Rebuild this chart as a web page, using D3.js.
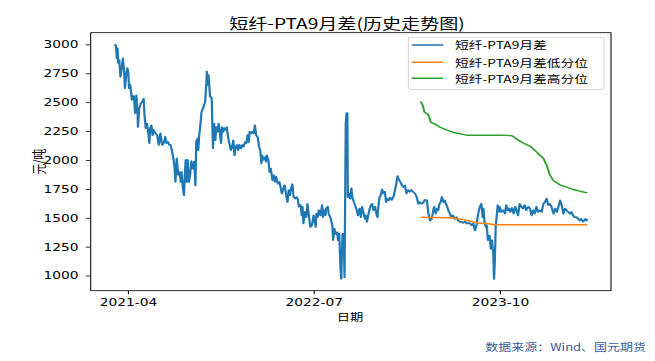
<!DOCTYPE html>
<html><head><meta charset="utf-8">
<script src="https://cdn.jsdelivr.net/npm/d3@7"></script>
<style>html,body{margin:0;padding:0;background:#fff;}svg{display:block;}</style>
</head><body><div id="chart"></div>
<script>
const titleText = "短纤-PTA9月差(历史走势图)";
const yLabel = "元/吨";
const xLabel = "日期";
const sourceText = "数据来源：Wind、国元期货";
const seriesNames = ["短纤-PTA9月差", "短纤-PTA9月差低分位", "短纤-PTA9月差高分位"];
const seriesColors = ["#1f77b4", "#ff7f0e", "#2ca02c"];
const yTicks = [1000, 1250, 1500, 1750, 2000, 2250, 2500, 2750, 3000];
const xTickLabels = ["2021-04", "2022-07", "2023-10"];

const spread = [
["2021-02-27",3000],["2021-03-03",2990],["2021-03-05",2880],["2021-03-07",2965],["2021-03-08",2840],["2021-03-11",2865],["2021-03-14",2720],["2021-03-17",2795],["2021-03-20",2880],["2021-03-23",2765],["2021-03-25",2620],["2021-03-28",2735],["2021-03-31",2795],
["2021-04-02",2765],["2021-04-04",2620],["2021-04-07",2650],["2021-04-11",2520],["2021-04-12",2560],["2021-04-16",2550],["2021-04-19",2405],["2021-04-22",2560],["2021-04-25",2390],["2021-04-26",2285],["2021-04-29",2445],
["2021-05-03",2490],["2021-05-07",2505],["2021-05-10",2530],["2021-05-12",2390],["2021-05-15",2275],["2021-05-18",2315],["2021-05-21",2245],["2021-05-24",2145],["2021-05-26",2275],["2021-05-29",2300],
["2021-06-01",2215],["2021-06-03",2260],["2021-06-08",2230],["2021-06-12",2215],["2021-06-16",2130],["2021-06-20",2230],["2021-06-24",2130],["2021-06-28",2145],
["2021-07-02",2200],["2021-07-05",2145],["2021-07-09",2155],["2021-07-12",2130],["2021-07-15",2130],["2021-07-19",2070],["2021-07-23",1985],["2021-07-25",1925],["2021-07-27",1810],["2021-07-30",2015],
["2021-08-03",1870],["2021-08-06",1895],["2021-08-09",1810],["2021-08-11",1895],["2021-08-14",1765],["2021-08-17",1695],["2021-08-19",1870],["2021-08-21",2000],["2021-08-24",1810],["2021-08-26",2000],["2021-08-29",1810],
["2021-09-01",1870],["2021-09-04",1990],["2021-09-07",1925],["2021-09-11",1985],["2021-09-14",1780],["2021-09-16",2155],["2021-09-19",2185],["2021-09-21",2085],["2021-09-23",2200],["2021-09-26",2300],["2021-09-29",2415],
["2021-10-04",2460],["2021-10-08",2505],["2021-10-11",2680],["2021-10-12",2765],["2021-10-15",2650],["2021-10-16",2735],["2021-10-20",2550],["2021-10-24",2535],["2021-10-27",2100],["2021-10-30",2315],
["2021-11-02",2170],["2021-11-04",2285],["2021-11-07",2245],["2021-11-10",2315],["2021-11-12",2260],["2021-11-16",2145],["2021-11-18",2285],["2021-11-21",2245],["2021-11-24",2275],["2021-11-27",2260],["2021-11-30",2285],
["2021-12-03",2200],["2021-12-06",2145],["2021-12-10",2085],["2021-12-13",2115],["2021-12-16",2170],["2021-12-19",2040],["2021-12-21",2100],["2021-12-25",2130],["2021-12-28",2085],["2021-12-31",2130],
["2022-01-04",2100],["2022-01-07",2130],["2022-01-10",2115],["2022-01-14",2155],["2022-01-17",2145],["2022-01-20",2215],["2022-01-23",2155],["2022-01-25",2245],["2022-01-29",2230],
["2022-02-01",2245],["2022-02-04",2230],["2022-02-07",2300],["2022-02-10",2215],["2022-02-14",2195],["2022-02-17",2115],["2022-02-20",2085],["2022-02-23",1970],["2022-02-25",2040],["2022-02-28",2000],
["2022-03-04",2025],["2022-03-06",1985],["2022-03-08",2040],["2022-03-12",2000],["2022-03-15",1895],["2022-03-18",1925],["2022-03-22",1825],["2022-03-25",1870],["2022-03-28",1810],["2022-03-31",1855],
["2022-04-04",1795],["2022-04-08",1810],["2022-04-11",1765],["2022-04-14",1710],["2022-04-18",1755],["2022-04-21",1780],["2022-04-24",1710],["2022-04-28",1635],
["2022-05-01",1740],["2022-05-04",1695],["2022-05-07",1755],["2022-05-10",1790],["2022-05-13",1680],["2022-05-17",1665],["2022-05-20",1680],["2022-05-23",1665],["2022-05-26",1595],["2022-05-30",1610],
["2022-06-02",1520],["2022-06-04",1595],["2022-06-06",1450],["2022-06-10",1550],["2022-06-13",1505],["2022-06-16",1620],["2022-06-20",1505],["2022-06-23",1420],["2022-06-27",1435],
["2022-07-01",1520],["2022-07-06",1420],["2022-07-08",1535],["2022-07-11",1505],["2022-07-14",1565],["2022-07-18",1520],["2022-07-22",1610],["2022-07-24",1505],["2022-07-28",1565],["2022-07-30",1520],
["2022-08-01",1580],["2022-08-05",1595],["2022-08-07",1535],["2022-08-11",1505],["2022-08-16",1435],["2022-08-18",1305],["2022-08-21",1405],["2022-08-24",1360],["2022-08-28",1375],["2022-08-30",1305],
["2022-09-02",1360],["2022-09-05",1070],["2022-09-07",970],["2022-09-10",1360],["2022-09-13",1360],["2022-09-15",985],["2022-09-18",2315],["2022-09-20",2405],["2022-09-22",2405],["2022-09-23",1680],["2022-09-26",1710],["2022-09-29",1665],
["2022-10-02",1755],["2022-10-04",1680],["2022-10-08",1635],["2022-10-12",1595],["2022-10-15",1565],["2022-10-18",1520],["2022-10-22",1580],["2022-10-25",1505],["2022-10-28",1595],
["2022-11-01",1535],["2022-11-04",1490],["2022-11-06",1520],["2022-11-09",1465],["2022-11-12",1520],["2022-11-16",1580],["2022-11-19",1610],["2022-11-22",1620],["2022-11-25",1565],["2022-11-29",1595],
["2022-12-02",1535],["2022-12-05",1505],["2022-12-07",1595],["2022-12-10",1680],["2022-12-13",1695],["2022-12-16",1745],["2022-12-20",1710],["2022-12-23",1725],["2022-12-26",1635],["2022-12-29",1665],
["2023-01-02",1650],["2023-01-05",1675],["2023-01-09",1655],["2023-01-13",1680],["2023-01-17",1740],["2023-01-20",1795],["2023-01-23",1860],["2023-01-27",1825],["2023-01-30",1810],
["2023-02-03",1780],["2023-02-06",1765],["2023-02-10",1780],["2023-02-14",1710],["2023-02-18",1740],["2023-02-22",1725],["2023-02-26",1740],
["2023-03-02",1725],["2023-03-07",1710],["2023-03-11",1680],["2023-03-15",1620],["2023-03-19",1635],["2023-03-23",1620],["2023-03-27",1630],["2023-03-31",1655],
["2023-04-05",1650],["2023-04-09",1535],["2023-04-13",1475],["2023-04-17",1490],["2023-04-21",1565],["2023-04-23",1595],["2023-04-27",1535],["2023-04-30",1580],
["2023-05-03",1565],["2023-05-06",1620],["2023-05-09",1635],["2023-05-12",1680],["2023-05-16",1635],["2023-05-19",1650],["2023-05-22",1620],["2023-05-25",1595],["2023-05-29",1550],
["2023-06-01",1535],["2023-06-04",1505],["2023-06-08",1520],["2023-06-13",1490],["2023-06-17",1505],["2023-06-21",1475],["2023-06-25",1465],["2023-06-29",1465],
["2023-07-03",1455],["2023-07-08",1465],["2023-07-12",1450],["2023-07-16",1455],["2023-07-20",1450],["2023-07-24",1435],["2023-07-28",1450],
["2023-08-01",1390],["2023-08-05",1435],["2023-08-09",1535],["2023-08-13",1595],["2023-08-17",1620],["2023-08-20",1505],["2023-08-22",1580],["2023-08-25",1450],["2023-08-28",1420],["2023-08-30",1435],
["2023-09-02",1305],["2023-09-06",1345],["2023-09-09",1230],["2023-09-12",1305],["2023-09-15",1190],["2023-09-17",970],["2023-09-19",1130],["2023-09-21",1420],["2023-09-24",1535],["2023-09-26",1610],["2023-09-29",1550],
["2023-10-01",1595],["2023-10-05",1550],["2023-10-10",1565],["2023-10-14",1535],["2023-10-17",1610],["2023-10-21",1565],["2023-10-24",1580],["2023-10-27",1550],["2023-10-31",1585],
["2023-11-04",1535],["2023-11-08",1595],["2023-11-11",1565],["2023-11-15",1520],["2023-11-19",1620],["2023-11-23",1595],["2023-11-27",1580],
["2023-12-01",1610],["2023-12-05",1565],["2023-12-10",1595],["2023-12-14",1580],["2023-12-18",1520],["2023-12-22",1565],["2023-12-26",1535],["2023-12-30",1595],
["2024-01-03",1550],["2024-01-07",1565],["2024-01-12",1550],["2024-01-16",1620],["2024-01-20",1635],["2024-01-24",1665],["2024-01-28",1610],
["2024-02-01",1620],["2024-02-05",1595],["2024-02-10",1535],["2024-02-14",1580],["2024-02-18",1550],["2024-02-22",1595],["2024-02-26",1650],
["2024-03-01",1610],["2024-03-05",1535],["2024-03-09",1580],["2024-03-13",1565],["2024-03-17",1550],["2024-03-21",1535],["2024-03-25",1550],["2024-03-29",1520],
["2024-04-02",1505],["2024-04-06",1505],["2024-04-11",1490],["2024-04-14",1475],["2024-04-18",1490],["2024-04-22",1465],["2024-04-25",1475],["2024-04-28",1490],["2024-05-01",1475],["2024-05-03",1490]
];

const lowPct = [
["2023-03-21",1505],["2023-05-31",1500],["2023-06-17",1495],["2023-07-03",1485],["2023-07-20",1470],["2023-08-09",1455],["2023-08-30",1450],["2023-09-19",1440],["2024-05-03",1440]
];

const highPct = [
["2023-03-21",2505],["2023-03-26",2475],["2023-03-30",2415],["2023-04-09",2390],["2023-04-15",2325],["2023-04-25",2310],["2023-05-07",2285],["2023-05-23",2260],["2023-06-13",2235],
["2023-07-12",2215],["2023-08-21",2215],["2023-10-01",2215],["2023-10-31",2210],["2023-11-12",2180],["2023-11-28",2145],["2023-12-14",2120],["2023-12-26",2085],
["2024-01-03",2055],["2024-01-16",2015],["2024-01-24",1955],["2024-02-01",1870],["2024-02-10",1820],["2024-02-26",1785],["2024-03-13",1765],["2024-03-29",1745],["2024-04-14",1730],["2024-05-03",1715]
];

// ---- layout (screen px); the figure is stretched horizontally like the reference ----
const W = 655, H = 361, SX = 1.3, VW = W / SX;
const box = { left: 90.7, right: 611, top: 32.7, bottom: 290.7 };
const cjk = "'Noto Sans CJK SC', 'Noto Sans', sans-serif";
const latin = "'DejaVu Sans', sans-serif";

const parse = d3.utcParse("%Y-%m-%d");
const parseMonth = d3.utcParse("%Y-%m");
const allSeries = [spread, lowPct, highPct].map(s => s.map(d => ({ date: parse(d[0]), value: d[1] })));

const svg = d3.select("#chart").append("svg")
  .attr("width", W).attr("height", H)
  .attr("viewBox", `0 0 ${VW} ${H}`)
  .attr("preserveAspectRatio", "none");

svg.append("rect").attr("width", VW).attr("height", H).attr("fill", "#fff");

const allDates = allSeries.flat().map(d => d.date);
const [d0, d1] = d3.extent(allDates);
const span = d1 - d0;
const x = d3.scaleUtc()
  .domain([new Date(+d0 - 0.05 * span), new Date(+d1 + 0.05 * span)])
  .range([box.left / SX, box.right / SX]);

const allVals = allSeries.flat().map(d => d.value);
const [v0, v1] = d3.extent(allVals);
const vs = v1 - v0;
const y = d3.scaleLinear()
  .domain([v0 - 0.05 * vs, v1 + 0.05 * vs])
  .range([box.bottom, box.top]);

// lines
const line = d3.line().x(d => x(d.date)).y(d => y(d.value));
const widths = [1.7, 1.5, 1.5];
allSeries.forEach((s, i) => {
  svg.append("path").datum(s)
    .attr("d", line)
    .attr("fill", "none")
    .attr("stroke", seriesColors[i])
    .attr("stroke-width", widths[i])
    .attr("stroke-linejoin", "round")
    .attr("stroke-linecap", "butt");
});

// axes
const yAxis = d3.axisLeft(y).tickValues(yTicks).tickFormat(d3.format("d"))
  .tickSize(5 / SX).tickPadding(7.2 / SX);
const gy = svg.append("g").attr("transform", `translate(${box.left / SX},0)`).call(yAxis);
gy.select(".domain").remove();
gy.selectAll(".tick line").attr("stroke", "#000").attr("stroke-width", 0.8);
gy.selectAll(".tick text").attr("font-family", latin).attr("font-size", 10.6).attr("fill", "#000");

const xAxis = d3.axisBottom(x).tickValues(xTickLabels.map(parseMonth))
  .tickFormat(d3.utcFormat("%Y-%m")).tickSize(3.6).tickPadding(3.7);
const gx = svg.append("g").attr("transform", `translate(0,${box.bottom})`).call(xAxis);
gx.select(".domain").remove();
gx.selectAll(".tick line").attr("stroke", "#000").attr("stroke-width", 0.8);
gx.selectAll(".tick text").attr("font-family", latin).attr("font-size", 10.6).attr("fill", "#000");

// frame
svg.append("rect")
  .attr("x", box.left / SX).attr("y", box.top)
  .attr("width", (box.right - box.left) / SX).attr("height", box.bottom - box.top)
  .attr("fill", "none").attr("stroke", "#000").attr("stroke-width", 0.8);

// title & labels
svg.append("text").text(titleText)
  .attr("x", 347 / SX).attr("y", 22.5)
  .attr("text-anchor", "middle").attr("dominant-baseline", "central")
  .attr("font-family", cjk).attr("font-size", 14.7).attr("fill", "#000");

svg.append("text").text(xLabel)
  .attr("x", 350 / SX).attr("y", 316.7)
  .attr("text-anchor", "middle").attr("dominant-baseline", "central")
  .attr("font-family", cjk).attr("font-size", 10.2).attr("fill", "#000");

svg.append("text").text(yLabel)
  .attr("transform", `translate(${38 / SX},${(box.top + box.bottom) / 2}) rotate(-90)`)
  .attr("text-anchor", "middle").attr("dominant-baseline", "central")
  .attr("font-family", cjk).attr("font-size", 10.8).attr("fill", "#000");

svg.append("text").text(sourceText)
  .attr("x", 646 / SX).attr("y", 346.7)
  .attr("text-anchor", "end").attr("dominant-baseline", "central")
  .attr("font-family", cjk).attr("font-size", 10).attr("fill", "#3c5a9a");

// legend
const lg = { x: 408.3, y: 37.3, w: 195.7, h: 52 };
svg.append("rect")
  .attr("x", lg.x / SX).attr("y", lg.y)
  .attr("width", lg.w / SX).attr("height", lg.h)
  .attr("rx", 2 / SX).attr("ry", 2)
  .attr("fill", "#fff").attr("fill-opacity", 0.8)
  .attr("stroke", "#d0d0d0").attr("stroke-width", 0.8);
const rowY = [45, 62.3, 78.3];
seriesNames.forEach((name, i) => {
  svg.append("line")
    .attr("x1", 411.7 / SX).attr("x2", 443.3 / SX)
    .attr("y1", rowY[i]).attr("y2", rowY[i])
    .attr("stroke", seriesColors[i]).attr("stroke-width", 1.5);
  svg.append("text").text(name)
    .attr("x", 455 / SX).attr("y", rowY[i])
    .attr("dominant-baseline", "central")
    .attr("font-family", cjk).attr("font-size", 10.6).attr("fill", "#000");
});
</script>
</body></html>
